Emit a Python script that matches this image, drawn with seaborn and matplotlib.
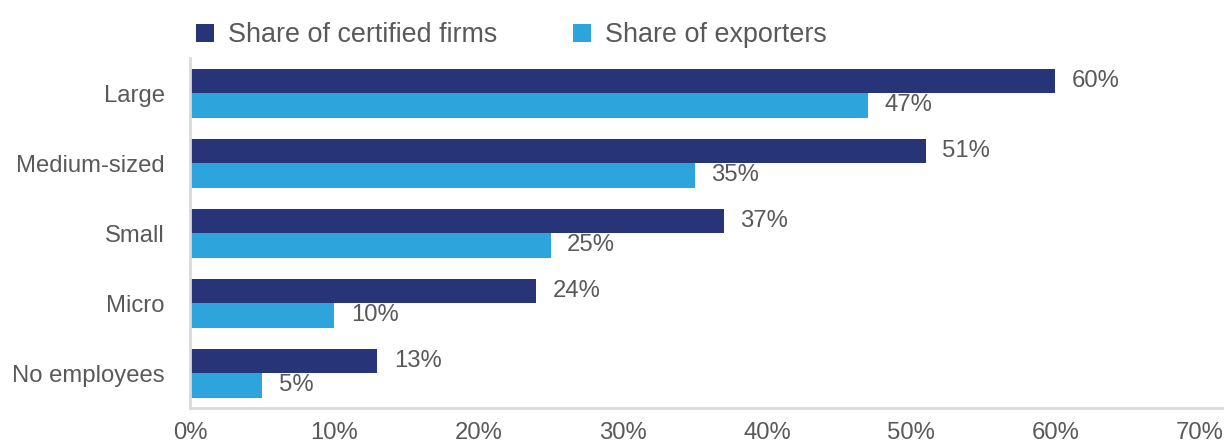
import matplotlib
matplotlib.use("Agg")
import matplotlib.pyplot as plt
import seaborn as sns
import pandas as pd

categories = ["Large", "Medium-sized", "Small", "Micro", "No employees"]
certified = [60, 51, 37, 24, 13]
exporters = [47, 35, 25, 10, 5]
series_names = ["Share of certified firms", "Share of exporters"]
x_ticks = [0, 10, 20, 30, 40, 50, 60, 70]

df = pd.DataFrame({
    "size": categories * 2,
    "share": certified + exporters,
    "series": [series_names[0]] * len(categories) + [series_names[1]] * len(categories),
})

sns.set_theme(style="white")
plt.rcParams["font.family"] = ["Liberation Sans", "DejaVu Sans"]

text_color = "#595959"
palette = {series_names[0]: "#283478", series_names[1]: "#2EA4DC"}

fig = plt.figure(figsize=(12.24, 4.44), dpi=100)
ax = fig.add_axes([0.1552, 0.081, 0.8438, 0.788])

sns.barplot(data=df, y="size", x="share", hue="series", order=categories,
            hue_order=series_names, palette=palette, width=0.7,
            saturation=1, orient="h", ax=ax, legend=True, linewidth=0)

for container in ax.containers:
    ax.bar_label(container, labels=[f"{v:.0f}%" for v in container.datavalues],
                 padding=12, fontsize=17.2, color=text_color)

ax.set_xlim(0, 71.6)
ax.set_xticks(x_ticks)
ax.set_xticklabels([f"{t}%" for t in x_ticks])
ax.set_xlabel("")
ax.set_ylabel("")
ax.tick_params(axis="both", length=0, labelsize=17.2, labelcolor=text_color)
ax.tick_params(axis="x", pad=10)
ax.tick_params(axis="y", pad=18)

for side in ["top", "right"]:
    ax.spines[side].set_visible(False)
for side in ["left", "bottom"]:
    ax.spines[side].set_color("#D9D9D9")
    ax.spines[side].set_linewidth(2)

handles, labels = ax.get_legend_handles_labels()
ax.legend(handles, labels, loc="lower left", bbox_to_anchor=(-0.002, 1.005),
          ncol=2, frameon=False, fontsize=19.4, labelcolor=text_color,
          handlelength=0.67, handleheight=0.67, handletextpad=0.52,
          columnspacing=2.8, borderaxespad=0.1, borderpad=0.2)

fig.savefig("out.png", dpi=100)
